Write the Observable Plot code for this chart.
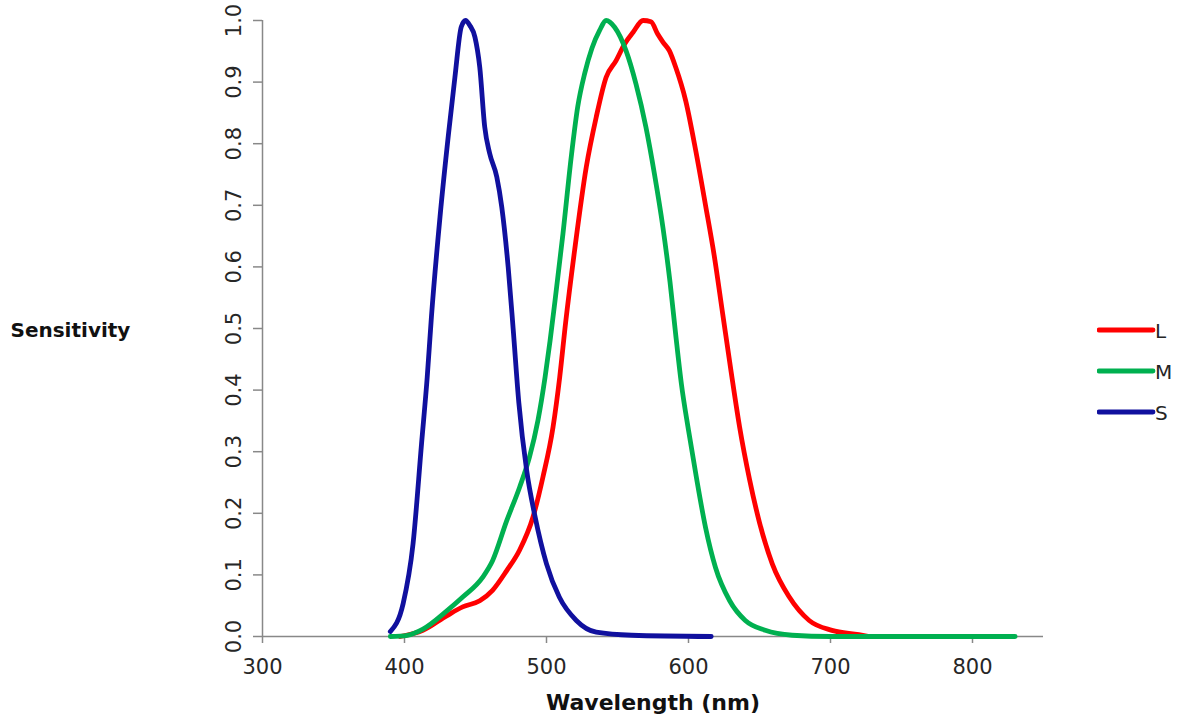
<!DOCTYPE html>
<html>
<head>
<meta charset="utf-8">
<script src="https://cdn.jsdelivr.net/npm/d3@7"></script>
<script src="https://cdn.jsdelivr.net/npm/@observablehq/plot@0.6"></script>
<style>
  html, body { margin: 0; padding: 0; background: #fff; }
  #wrap { position: relative; width: 1182px; height: 717px; }
  #legend { position: absolute; left: 1097px; top: 318px; font-family: "DejaVu Sans", sans-serif; }
</style>
</head>
<body>
<div id="wrap"><div id="legend"></div></div>
<script>
// ---- data ----
const seriesNames = ["L", "M", "S"];
const seriesColors = ["#FF0000", "#00B050", "#10109E"];
const xTicks = [300, 400, 500, 600, 700, 800];
const yTicks = [0, 0.1, 0.2, 0.3, 0.4, 0.5, 0.6, 0.7, 0.8, 0.9, 1.0];
const xTitle = "Wavelength (nm)";
const yTitle = "Sensitivity";

const lWl  = [397, 413, 430, 441, 453, 462, 472, 481, 490.5, 497.5, 504.6, 509.3, 513.5, 519.8, 528, 535, 542, 549, 555, 561, 568, 573.6, 578.3, 582, 586.5, 591, 598, 605, 612, 618, 624, 630, 636, 643, 650, 659, 671, 685, 701, 720, 727];
const lVal = [0, 0.010, 0.034, 0.048, 0.058, 0.075, 0.107, 0.140, 0.194, 0.259, 0.340, 0.421, 0.51, 0.627, 0.762, 0.843, 0.908, 0.935, 0.962, 0.981, 1.0, 0.998, 0.978, 0.965, 0.951, 0.924, 0.870, 0.79, 0.70, 0.62, 0.525, 0.43, 0.34, 0.255, 0.185, 0.118, 0.064, 0.026, 0.010, 0.003, 0.0];

const mWl  = [390, 402, 413, 430, 441, 455, 462, 472, 481, 488, 494, 499, 502.5, 506, 511.6, 517.5, 522, 527, 532, 537.4, 542, 548, 556, 563, 570, 576, 582, 587, 591, 595, 600, 605.5, 612, 619, 629, 640, 654, 673, 700, 830];
const mVal = [0, 0.002, 0.012, 0.042, 0.064, 0.096, 0.123, 0.188, 0.242, 0.291, 0.351, 0.421, 0.48, 0.545, 0.654, 0.78, 0.86, 0.915, 0.955, 0.984, 1.0, 0.989, 0.951, 0.897, 0.827, 0.751, 0.664, 0.575, 0.49, 0.41, 0.335, 0.259, 0.177, 0.112, 0.058, 0.026, 0.010, 0.002, 0.0, 0.0];

const sWl  = [390, 399, 406, 412, 416, 419, 425, 431, 435.5, 440, 443, 446, 449.6, 453, 456.5, 460, 465, 468.5, 473, 476.5, 480.5, 486, 492, 500, 509, 521, 535, 560, 616];
const sVal = [0.008, 0.053, 0.15, 0.313, 0.421, 0.52, 0.681, 0.816, 0.908, 0.99, 1.0, 0.992, 0.973, 0.924, 0.827, 0.784, 0.746, 0.697, 0.60, 0.50, 0.38, 0.27, 0.194, 0.118, 0.064, 0.026, 0.007, 0.002, 0.0];

// ---- build table ----
const table = [];
[[lWl, lVal, "L"], [mWl, mVal, "M"], [sWl, sVal, "S"]].forEach(([xs, ys, name]) => {
  xs.forEach((x, i) => table.push({series: name, wl: x, val: ys[i]}));
});

const axisGray = "#888888";
const textDark = "#262626";

const chart = Plot.plot({
  width: 1182,
  height: 717,
  marginLeft: 262,
  marginRight: 139,
  marginTop: 20,
  marginBottom: 81,
  style: {fontFamily: "'DejaVu Sans', sans-serif", fontSize: "21px", background: "#fff"},
  x: {domain: [300, 850]},
  y: {domain: [0, 1]},
  color: {domain: seriesNames, range: seriesColors},
  marks: [
    Plot.ruleX([300], {stroke: axisGray, strokeWidth: 1.5}),
    Plot.ruleY([0], {stroke: axisGray, strokeWidth: 1.5}),
    Plot.axisX({ticks: xTicks, tickSize: 7, tickPadding: 16, tickFormat: d => String(d), stroke: axisGray, fill: textDark, fontSize: 21, label: null, strokeWidth: 1.5}),
    Plot.axisY({ticks: yTicks, tickSize: 9, tickPadding: 13, tickRotate: -90, tickFormat: d3.format(".1f"), stroke: axisGray, fill: textDark, fontSize: 21, label: null, strokeWidth: 1.5}),
    Plot.line(table, {x: "wl", y: "val", z: "series", stroke: "series", strokeWidth: 4.8, curve: "monotone-x", strokeLinejoin: "round", strokeLinecap: "round"}),
    Plot.text([xTitle], {frameAnchor: "bottom", dy: 73, fontWeight: "bold", fontSize: 22, fill: "#111"}),
    Plot.text([yTitle], {frameAnchor: "left", dx: -252, dy: 2, textAnchor: "start", fontWeight: "bold", fontSize: 20, fill: "#111"})
  ]
});
document.getElementById("wrap").prepend(chart);

// ---- legend ----
const leg = d3.select("#legend").append("svg").attr("width", 85).attr("height", 110)
  .style("font-family", "'DejaVu Sans', sans-serif");
const items = leg.selectAll("g").data(seriesNames).join("g")
  .attr("transform", (d, i) => `translate(0, ${12 + i * 41})`);
items.append("line").attr("x1", 2).attr("x2", 56).attr("y1", 0).attr("y2", 0)
  .attr("stroke", (d, i) => seriesColors[i]).attr("stroke-width", 4.8).attr("stroke-linecap", "round");
items.append("text").attr("x", 58).attr("y", 8).attr("font-size", 20).attr("fill", textDark).text(d => d);
</script>
</body>
</html>
